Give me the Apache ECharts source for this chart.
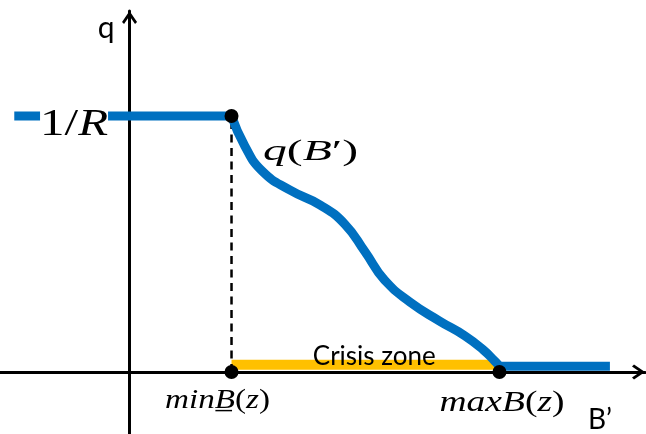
<!DOCTYPE html>
<html>
<head>
<meta charset="utf-8">
<script src="https://cdn.jsdelivr.net/npm/echarts@6/dist/echarts.min.js"></script>
<style>
  html, body { margin: 0; padding: 0; background: #fff; }
  #chart { width: 646px; height: 434px; }
</style>
</head>
<body>
<div id="chart"></div>
<script>
// Bond price schedule q(B') against next-period debt B'

// Flat price 1/R for low debt
const flatLeftB = [-1.13, 1.0];
const flatLeftQ = [1.0, 1.0];

// Declining price between the two debt thresholds
const curveB = [1.00, 1.13, 1.30, 1.57, 1.87, 2.11, 2.31, 2.50, 2.75, 3.04, 3.29, 3.47, 3.58, 3.627];
const curveQ = [1.00, 0.883, 0.785, 0.711, 0.652, 0.578, 0.469, 0.359, 0.273, 0.199, 0.141, 0.086, 0.043, 0.023];

// Zero price beyond the upper threshold
const flatRightB = [3.627, 4.71];
const flatRightQ = [0.023, 0.023];

// Crisis zone band along the B' axis
const crisisB = [1.0, 3.627];
const crisisQ = [0.0285, 0.0285];

// Marked threshold points
const pointB = [1.0, 1.0, 3.627];
const pointQ = [1.0, 0.0, 0.0];

// Guide from the kink down to the axis
const guideB = [1.0, 1.0];
const guideQ = [0.0, 1.0];

// Axis extents
const rangeB = [-1.27, 5.054];
const rangeQ = [-0.242, 1.41];

const BLUE = '#0070C0';
const ORANGE = '#FFC000';
const SERIF = '"Liberation Serif", "DejaVu Serif", serif';
const SANS = 'Lato, "Open Sans", sans-serif';

// Open chevron arrow head, pointing up in its own frame
const ARROW = 'path://M7.5,0 L15,11 L13,13 L7.5,5 L2,13 L0,11 Z';

const pairs = (xs, ys) => xs.map((x, i) => [x, ys[i]]);

function axis(range) {
  return {
    type: 'value',
    min: range[0],
    max: range[1],
    axisLine: {
      show: true,
      onZero: true,
      symbol: ['none', ARROW],
      symbolSize: [15, 13],
      symbolOffset: [0, -6.5],
      lineStyle: { color: '#000', width: 3 }
    },
    axisTick: { show: false },
    axisLabel: { show: false },
    splitLine: { show: false }
  };
}

const option = {
  animation: false,
  backgroundColor: '#fff',
  grid: { left: 0, right: 1, top: 11, bottom: 0, containLabel: false, outerBoundsMode: 'none' },
  xAxis: axis(rangeB),
  yAxis: axis(rangeQ),
  series: [
    {
      type: 'line', name: 'crisis', data: pairs(crisisB, crisisQ),
      symbol: 'none', z: 2,
      lineStyle: { color: ORANGE, width: 10, cap: 'butt' }
    },
    {
      type: 'line', name: 'guide', data: pairs(guideB, guideQ),
      symbol: 'none', z: 2,
      lineStyle: { color: '#000', width: 2.5, type: [8, 5.5] }
    },
    {
      type: 'line', name: 'flatLeft', data: pairs(flatLeftB, flatLeftQ),
      symbol: 'none', z: 3,
      lineStyle: { color: BLUE, width: 9, cap: 'butt' }
    },
    {
      type: 'line', name: 'price', data: pairs(curveB, curveQ),
      symbol: 'none', smooth: 0.5, z: 3,
      lineStyle: { color: BLUE, width: 9, cap: 'butt', join: 'round' }
    },
    {
      type: 'line', name: 'flatRight', data: pairs(flatRightB, flatRightQ),
      symbol: 'none', z: 3,
      lineStyle: { color: BLUE, width: 9, cap: 'butt' }
    },
    {
      type: 'scatter', name: 'points', data: pairs(pointB, pointQ),
      symbol: 'circle', symbolSize: 14, z: 5,
      itemStyle: { color: '#000', opacity: 1 }
    }
  ]
};

const chart = echarts.init(document.getElementById('chart'), null, { renderer: 'canvas' });
chart.setOption(option);

// Text annotations, anchored in data coordinates
const textStyles = {
  n: { fontFamily: SERIF, fontSize: 38, fontStyle: 'normal' },
  i: { fontFamily: SERIF, fontSize: 38, fontStyle: 'italic' },
  qn: { fontFamily: SERIF, fontSize: 30, fontStyle: 'normal' },
  qi: { fontFamily: SERIF, fontSize: 30, fontStyle: 'italic' },
  mn: { fontFamily: SERIF, fontSize: 27, fontStyle: 'normal' },
  mi: { fontFamily: SERIF, fontSize: 27, fontStyle: 'italic' },
  xn: { fontFamily: SERIF, fontSize: 30, fontStyle: 'normal' },
  xi: { fontFamily: SERIF, fontSize: 30, fontStyle: 'italic' },
  s30: { fontFamily: SANS, fontSize: 30, fontStyle: 'normal' },
  s28: { fontFamily: SANS, fontSize: 28, fontStyle: 'normal' },
  s26: { fontFamily: SANS, fontSize: 26, fontStyle: 'normal' }
};

const annotations = [
  { at: [-0.230, 1.343], parts: [['q', 's30']] },
  { at: [4.613, -0.189], parts: [['B\u2019', 's28']] },
  { at: [2.40, 0.060], parts: [['Crisis zone', 's26']] },
  { at: [-0.544, 0.964], parts: [['1/', 'n'], ['R', 'i']], width: 68, bg: '#fff' },
  { at: [1.775, 0.860], parts: [['q', 'qi'], ['(', 'qn'], ['B', 'qi'], ['\u2032)', 'qn']], width: 95 },
  { at: [0.863, -0.113], parts: [['min', 'mi'], ['B\u0332', 'mi'], ['(', 'mn'], ['z', 'mi'], [')', 'mn']], width: 105 },
  { at: [3.652, -0.121], parts: [['max', 'xi'], ['B', 'xi'], ['(', 'xn'], ['z', 'xi'], [')', 'xn']], width: 125 }
];

const ctx = document.createElement('canvas').getContext('2d');
function measure(text, st) {
  ctx.font = st.fontStyle + ' normal ' + st.fontSize + 'px ' + st.fontFamily;
  return ctx.measureText(text).width;
}

const rich = {};
Object.keys(textStyles).forEach(k => {
  const st = textStyles[k];
  rich[k] = {
    fontFamily: st.fontFamily, fontSize: st.fontSize, fontStyle: st.fontStyle,
    fill: '#000', color: '#000'
  };
});

const elements = annotations.map(a => {
  const pos = chart.convertToPixel({ xAxisIndex: 0, yAxisIndex: 0 }, a.at);
  const natural = a.parts.reduce((w, p) => w + measure(p[0], textStyles[p[1]]), 0);
  const scaleX = a.width ? a.width / natural : 1;
  const style = {
    text: a.parts.map(p => '{' + p[1] + '|' + p[0] + '}').join(''),
    rich: rich,
    fill: '#000',
    align: 'center', verticalAlign: 'middle',
    textAlign: 'center', textVerticalAlign: 'middle'
  };
  if (a.bg) style.backgroundColor = a.bg;
  return { type: 'text', x: pos[0], y: pos[1], scaleX: scaleX, z: 100, silent: true, style: style };
});

chart.setOption({ graphic: elements });
</script>
</body>
</html>
